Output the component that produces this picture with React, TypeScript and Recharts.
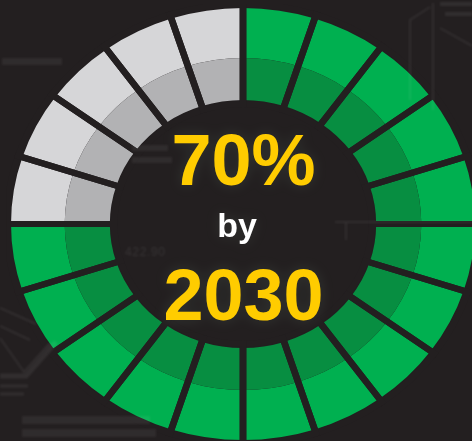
import { PieChart, Pie, Cell } from 'recharts';

// twenty equal wedges, clockwise from twelve o'clock
const SEGMENT_SIZES = [1, 1, 1, 1, 1, 1, 1, 1, 1, 1, 1, 1, 1, 1, 1, 1, 1, 1, 1, 1];
const SEGMENT_DONE = [
  true, true, true, true, true,
  true, true, true, true, true,
  true, true, true, true, true,
  false, false, false, false, false,
];

const HEADLINE = '70%';
const JOINER = 'by';
const TARGET_YEAR = '2030';

const BG = '#231f20';
const OUTER_ON = '#00b050';
const INNER_ON = '#078e41';
const OUTER_OFF = '#d6d6d8';
const INNER_OFF = '#b2b2b4';

const rows = SEGMENT_SIZES.map((size, i) => ({ name: `s${i}`, size, done: SEGMENT_DONE[i] }));

const SIZE = 440;
const CX = 243;
const CY = 224;
const R_OUT = 216;
const R_MID = 166;
const R_IN = 124;
const STRETCH = 232 / 216;

const FONT = '"Liberation Sans", Arial, sans-serif';
const GLOW = 'drop-shadow(0 0 7px rgba(190,255,210,0.1))';

export default function App() {
  return (
    <div style={{ position: 'fixed', left: 0, top: 0, width: 472, height: 441, overflow: 'hidden', background: BG }}>
      {/* the ring is a circular pie stretched sideways */}
      <div
        style={{
          position: 'absolute',
          left: CX - SIZE / 2,
          top: CY - SIZE / 2,
          width: SIZE,
          height: SIZE,
          transform: `scaleX(${STRETCH})`,
        }}
      >
        <PieChart width={SIZE} height={SIZE} margin={{ top: 0, right: 0, bottom: 0, left: 0 }}>
          <Pie
            data={rows}
            dataKey="size"
            cx={SIZE / 2}
            cy={SIZE / 2}
            startAngle={90}
            endAngle={-270}
            innerRadius={R_MID}
            outerRadius={R_OUT}
            stroke="none"
            isAnimationActive={false}
          >
            {rows.map((r) => (
              <Cell key={r.name} fill={r.done ? OUTER_ON : OUTER_OFF} />
            ))}
          </Pie>
          <Pie
            data={rows}
            dataKey="size"
            cx={SIZE / 2}
            cy={SIZE / 2}
            startAngle={90}
            endAngle={-270}
            innerRadius={R_IN}
            outerRadius={R_MID}
            stroke="none"
            isAnimationActive={false}
          >
            {rows.map((r) => (
              <Cell key={r.name} fill={r.done ? INNER_ON : INNER_OFF} />
            ))}
          </Pie>
          {/* dividers: outlines pushed past both ring edges so only the radial sides show */}
          <Pie
            data={rows}
            dataKey="size"
            cx={SIZE / 2}
            cy={SIZE / 2}
            startAngle={90}
            endAngle={-270}
            innerRadius={R_IN - 4}
            outerRadius={R_OUT + 4}
            fill="none"
            stroke={BG}
            strokeWidth={6.2}
            isAnimationActive={false}
          />
        </PieChart>
      </div>

      {/* faint drafting lines and smudged notes, showing slightly through the ring */}
      <svg width={472} height={441} style={{ position: 'absolute', left: 0, top: 0, filter: 'blur(1.2px)' }}>
        <g fill="none" stroke="#fff" strokeOpacity={0.07} strokeWidth={2}>
          <path d="M410 100 V20 L430 7 M433 110 V3 M440 28 L472 46" />
          <path d="M440 4 H472 M445 14 H472" strokeWidth={4} />
          <path d="M335 222 H472 M346 222 V240" />
          <path d="M0 308 L36 324 M0 326 L30 340 M0 338 L24 372 L50 343" />
          <path d="M0 376 H26 L56 342" strokeWidth={5} />
          <path d="M0 386 H28 M0 394 H24" strokeWidth={3} />
        </g>
        <g fill="#fff" fillOpacity={0.06}>
          <rect x={2} y={58} width={60} height={7} />
          <rect x={132} y={145} width={36} height={6} />
          <rect x={132} y={157} width={40} height={6} />
          <rect x={22} y={416} width={128} height={8} />
          <rect x={22} y={429} width={134} height={8} />
        </g>
        <text x={125} y={256} fontSize={12} fill="#fff" fillOpacity={0.09} fontFamily={FONT} textLength={40}>422.90</text>
      </svg>

      <svg width={472} height={441} style={{ position: 'absolute', left: 0, top: 0 }}>
        <g fontFamily={FONT} fontWeight={700} textAnchor="middle" style={{ filter: GLOW }}>
          <text x={243.5} y={185} fontSize={72} fill="#ffcc00">{HEADLINE}</text>
          <text x={237} y={237} fontSize={34} fill="#ffffff">{JOINER}</text>
          <text x={243.5} y={320} fontSize={72} fill="#ffcc00">{TARGET_YEAR}</text>
        </g>
      </svg>
    </div>
  );
}
